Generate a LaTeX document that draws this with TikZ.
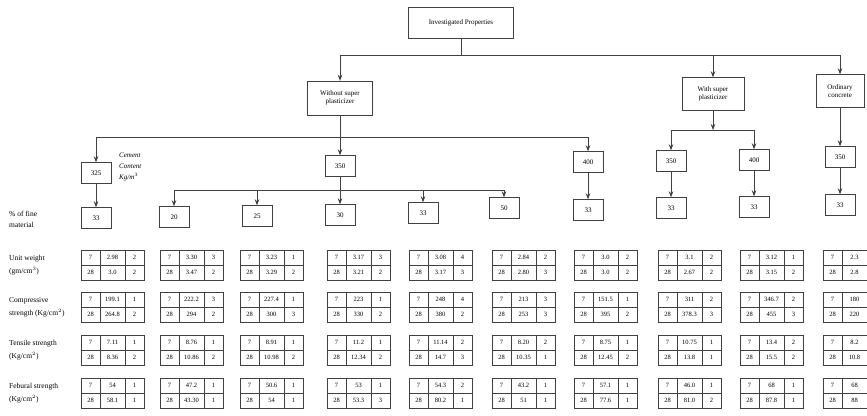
\documentclass[tikz,border=0pt]{standalone}
\usepackage{fontspec}
\setmainfont{Liberation Serif}
\usetikzlibrary{arrows.meta}

\newcommand\proptab[7]{%
  \node[prop cell,minimum width=19pt] (#1a) at (#2,#3) {7};
  \node[prop cell,minimum width=25pt] (#1b) at (#1a.north east) {#4};
  \node[prop cell,minimum width=19pt] (#1c) at (#1b.north east) {#5};
  \node[prop cell,minimum width=19pt] (#1d) at (#1a.south west) {28};
  \node[prop cell,minimum width=25pt] (#1e) at (#1d.north east) {#6};
  \node[prop cell,minimum width=19pt] (#1f) at (#1e.north east) {#7};
}

\begin{document}
\begin{tikzpicture}[x=1pt,y=-1pt]
        \tikzset{
        prop node/.style={rectangle,draw=black!75,align=center,inner sep=1pt,
          minimum width=30pt,minimum height=21pt,font=\fontsize{7}{8.5}\selectfont},
        prop cell/.style={rectangle,draw=black!75,anchor=north west,inner sep=0,
          outer sep=0,minimum height=15pt,font=\fontsize{6.5}{6.5}\selectfont},
        prop label/.style={anchor=west,align=left,inner sep=0,
          font=\fontsize{7.5}{13}\selectfont},
        prop edge/.style={-{Stealth[length=6pt,width=4.5pt]}},
        prop elbow/.style={prop edge,to path={-| (\tikztotarget)}}
        }
        \path[fill=white,use as bounding box] (0,0) rectangle (867,415);

        \node[prop node,minimum width=105pt,minimum height=31pt] (inv) at (461,23) {Investigated Properties};
        \node[prop node,minimum width=65pt,minimum height=34pt] (wo) at (340,98) {Without super\\plasticizer};
        \node[prop node,minimum width=62pt,minimum height=33pt] (wsp) at (713,94) {With super\\plasticizer};
        \node[prop node,minimum width=48pt,minimum height=33pt] (ord) at (840,91) {Ordinary\\concrete};

        \node[prop node] (c325) at (96,173) {325};
        \node[prop node] (c350) at (340,166) {350};
        \node[prop node] (c400) at (588,162) {400};
        \node[prop node] (s350) at (671,161) {350};
        \node[prop node] (s400) at (754,160) {400};
        \node[prop node] (o350) at (840,157) {350};

        \node[prop node] (f33a) at (96,218) {33};
        \node[prop node] (f20) at (174,217) {20};
        \node[prop node] (f25) at (257,216) {25};
        \node[prop node] (f30) at (340,215) {30};
        \node[prop node] (f33) at (423,213) {33};
        \node[prop node] (f50) at (504,208) {50};
        \node[prop node] (f33b) at (588,210) {33};
        \node[prop node] (f33c) at (671,208) {33};
        \node[prop node] (f33d) at (754,207) {33};
        \node[prop node] (f33e) at (840,205) {33};

        \node[prop label,anchor=north west,font=\itshape\fontsize{7}{11}\selectfont] (cem) at (119,153) {Cement\\Content\\Kg/m$^3$};
        \node[prop label,font=\fontsize{7.5}{11}\selectfont] (fine) at (9,219) {\% of fine\\material};
        \node[prop label] (uw) at (9,265) {Unit weight\\(gm/cm$^3$)};
        \node[prop label] (cs) at (9,307) {Compressive\\strength (Kg/cm$^2$)};
        \node[prop label] (ts) at (9,350) {Tensile strength\\(Kg/cm$^2$)};
        \node[prop label] (fs) at (9,393) {Febural strength\\(Kg/cm$^2$)};

        \coordinate (j0) at (461,55);
        \coordinate (j1) at (340,137);
        \coordinate (j2) at (340,190);
        \coordinate (j3) at (713,130);

        \path[-,draw=black!75,line width=0.8pt]
        (inv) edge (j0)
        (j0) edge[prop elbow] (wo)
        (j0) edge[prop elbow] (wsp)
        (j0) edge[prop elbow] (ord)
        (wo) edge[prop edge] (c350)
        (j1) edge[prop elbow] (c325)
        (j1) edge[prop elbow] (c400)
        (c350) edge[prop edge] (f30)
        (j2) edge[prop elbow] (f20)
        (j2) edge[prop elbow] (f25)
        (j2) edge[prop elbow] (f33)
        (j2) edge[prop elbow] (f50)
        (wsp) edge[prop edge] (j3)
        (j3) edge[prop elbow] (s350)
        (j3) edge[prop elbow] (s400)
        (ord) edge[prop edge] (o350)
        (c325) edge[prop edge] (f33a)
        (c400) edge[prop edge] (f33b)
        (s350) edge[prop edge] (f33c)
        (s400) edge[prop edge] (f33d)
        (o350) edge[prop edge] (f33e)
        ;

        \proptab{uwa}{81}{250}{2.98}{2}{3.0}{2}
        \proptab{uwb}{160}{250}{3.30}{3}{3.47}{2}
        \proptab{uwc}{240}{250}{3.23}{1}{3.29}{2}
        \proptab{uwd}{327}{250}{3.17}{3}{3.21}{2}
        \proptab{uwe}{409}{250}{3.08}{4}{3.17}{3}
        \proptab{uwf}{492}{250}{2.84}{2}{2.80}{3}
        \proptab{uwg}{574}{250}{3.0}{2}{3.0}{2}
        \proptab{uwh}{658}{250}{3.1}{2}{2.67}{2}
        \proptab{uwi}{740}{250}{3.12}{1}{3.15}{2}
        \proptab{uwj}{823}{250}{2.3}{}{2.8}{}

        \proptab{csa}{81}{292}{199.1}{1}{264.8}{2}
        \proptab{csb}{160}{292}{222.2}{3}{294}{2}
        \proptab{csc}{240}{292}{227.4}{1}{300}{3}
        \proptab{csd}{327}{292}{223}{1}{330}{2}
        \proptab{cse}{409}{292}{248}{4}{380}{2}
        \proptab{csf}{492}{292}{213}{3}{253}{3}
        \proptab{csg}{574}{292}{151.5}{1}{395}{2}
        \proptab{csh}{658}{292}{311}{2}{378.3}{3}
        \proptab{csi}{740}{292}{346.7}{2}{455}{3}
        \proptab{csj}{823}{292}{180}{}{220}{}

        \proptab{tsa}{81}{335}{7.11}{1}{8.36}{2}
        \proptab{tsb}{160}{335}{8.76}{1}{10.86}{2}
        \proptab{tsc}{240}{335}{8.91}{1}{10.98}{2}
        \proptab{tsd}{327}{335}{11.2}{1}{12.34}{2}
        \proptab{tse}{409}{335}{11.14}{2}{14.7}{3}
        \proptab{tsf}{492}{335}{8.20}{2}{10.35}{1}
        \proptab{tsg}{574}{335}{8.75}{1}{12.45}{2}
        \proptab{tsh}{658}{335}{10.75}{1}{13.8}{1}
        \proptab{tsi}{740}{335}{13.4}{2}{15.5}{2}
        \proptab{tsj}{823}{335}{8.2}{}{10.8}{}

        \proptab{fsa}{81}{378}{54}{1}{58.1}{1}
        \proptab{fsb}{160}{378}{47.2}{1}{43.30}{1}
        \proptab{fsc}{240}{378}{50.6}{1}{54}{1}
        \proptab{fsd}{327}{378}{53}{1}{53.3}{3}
        \proptab{fse}{409}{378}{54.3}{2}{80.2}{1}
        \proptab{fsf}{492}{378}{43.2}{1}{51}{1}
        \proptab{fsg}{574}{378}{57.1}{1}{77.6}{1}
        \proptab{fsh}{658}{378}{46.0}{1}{81.0}{2}
        \proptab{fsi}{740}{378}{68}{1}{87.8}{1}
        \proptab{fsj}{823}{378}{68}{}{88}{}
    \end{tikzpicture}
\end{document}
